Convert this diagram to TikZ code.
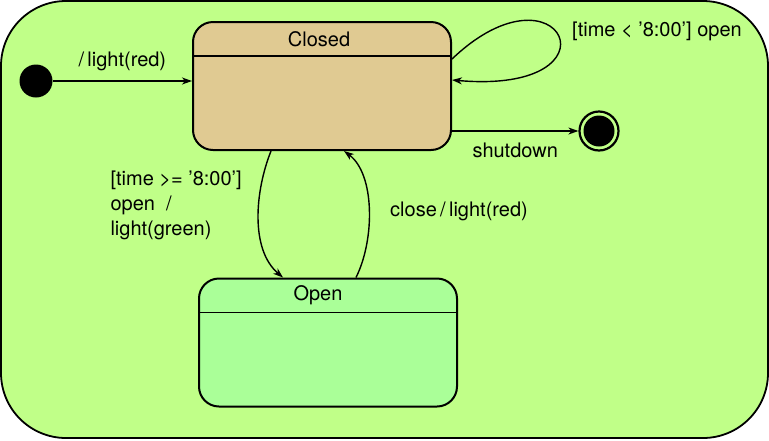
\documentclass[tikz,border=0pt]{standalone}
\usepackage{fontspec}
\setmainfont{TeX Gyre Heros}
\usepackage{xcolor}
\usepackage{tikz}
\usetikzlibrary{calc,arrows.meta}
\definecolor{machinebg}{HTML}{C0FF88}
\definecolor{closedfill}{HTML}{E0CA92}
\definecolor{openfill}{HTML}{AAFF98}
\tikzset{
  machine/.style={draw=black, fill=machinebg, line width=1.8pt, rounded corners=65pt},
  state/.style={draw=black, line width=2pt, rounded corners=20pt, minimum width=258pt, minimum height=128pt, inner sep=0pt},
  initdot/.style={circle, fill=black, minimum size=33pt, inner sep=0pt},
  finring/.style={circle, draw=black, line width=2.2pt, minimum size=39pt, inner sep=0pt},
  trans/.style={draw=black, line width=1.4pt, -{Stealth[length=10pt,width=7pt,inset=3pt]}},
  labl/.style={font=\fontsize{20}{25}\selectfont},
  every node/.style={text=black}
}
\newcommand{\StateHeader}[3]{%
  \draw[line width=1.6pt] ([yshift=-35pt]#1.north west) -- ([yshift=-35pt]#1.north east);
  \node[labl] (#1name) at ([xshift=#3pt,yshift=-18pt]#1.north) {#2};
}

\begin{document}
\begin{tikzpicture}[x=1pt, y=-1pt]
  \useasboundingbox (0,0) rectangle (769,440);
  \draw[machine] (1,1) rectangle (768,438);

  \node[state, fill=closedfill] (closed) at (322,86) {};
  \StateHeader{closed}{Closed}{-3}
  \node[state, fill=openfill] (open) at (328,342.5) {};
  \StateHeader{open}{Open}{-10}

  \node[initdot] (start) at (36,81) {};
  \node[finring] (stop) at (599,131) {};
  \node[initdot, minimum size=31pt] (stopdot) at (stop) {};

  \draw[trans] (start) -- (closed.west |- start) node[labl, midway, above=6pt] {/\,light(red)};
  \draw[trans] ([yshift=27pt]closed.east) .. controls +(109,-104) and +(174,15) .. ([yshift=6pt]closed.east);
  \node[labl] (looplbl) at (657,31) {[time < '8:00'] open};
  \draw[trans] (closed.east |- stop) -- (stop) node[labl, midway, below=8pt] {shutdown};

  \draw[trans] ([xshift=-51pt]closed.south) .. controls +(-16,40) and +(-33,-28) .. ([xshift=-45pt]open.north);
  \node[labl, align=left, anchor=west] (guardlbl) at (107,205) {[time >= '8:00']\\open~ /\\light(green)};
  \draw[trans] ([xshift=28pt]open.north) .. controls +(19,-38) and +(31,23) .. ([xshift=22pt]closed.south);
  \node[labl] (closelbl) at (459,211) {close\,/\,light(red)};
\end{tikzpicture}
\end{document}
